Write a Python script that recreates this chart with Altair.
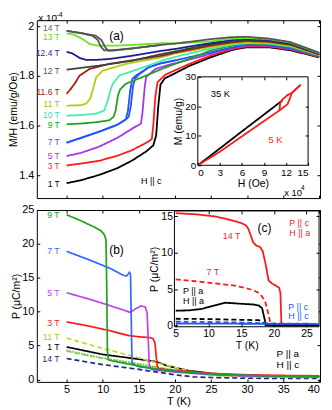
import altair as alt
import pandas as pd

FONT = "Liberation Sans"

# ================= Panel (a): M/H (x1e-4 emu/g/Oe) vs T (K) =================
a_series = ["1 T", "3 T", "5 T", "7 T", "7 T b", "9 T", "10 T", "11 T",
            "11.6 T", "12 T", "12.4 T", "13 T", "14 T", "14 T b"]
a_colors = ["#000000", "#ff1a1a", "#aa33ee", "#2255ff", "#2255ff", "#22a022", "#44eeaa",
            "#b4cc10", "#a0200a", "#404040", "#1c1c90", "#66e61e", "#555555", "#555555"]

a_T = {
    "1 T": [5, 7, 9.5, 12, 14, 16, 17, 17.4, 17.7, 18.0, 18.6, 20, 22, 25, 28, 30, 33, 36, 40],
    "3 T": [5, 7, 9.5, 12, 14, 16, 16.8, 17.0, 17.3, 17.6, 18.7, 20, 22, 25, 28, 30, 33, 36, 40],
    "5 T": [5, 7, 9.5, 12, 14.1, 15.3, 15.5, 15.8, 16.0, 17.3, 19.6, 22, 25, 28, 30, 33, 36, 40],
    "7 T": [5, 7, 9.5, 12, 13.2, 13.5, 13.8, 14.1, 14.6, 16.4, 18, 20, 22, 25, 28, 30, 33, 36, 40],
    "7 T b": [5, 9.5, 12, 13.0, 13.6, 13.9, 14.2, 14.5, 15.0, 16.4, 18, 20],
    "9 T": [5, 7, 9, 10.9, 11.5, 11.8, 12.1, 12.4, 13.2, 15.5, 18.2, 20, 22, 25, 28, 30, 33, 36, 40],
    "10 T": [5, 7, 9.1, 10.2, 10.7, 11.1, 11.4, 12.3, 15, 18.2, 20, 22, 25, 28, 30, 33, 36, 40],
    "11 T": [5, 7, 7.7, 8.3, 8.6, 9.1, 10, 13.2, 18.2, 20, 22, 25, 28, 30, 33, 36, 40],
    "11.6 T": [5, 5.4, 6.1, 6.8, 8.2, 10.9, 14, 18.2, 20, 22, 25, 28, 30, 33, 36, 40],
    "12 T": [5, 9.5, 14.1, 18.2, 20, 22, 25, 28, 30, 33, 36, 40],
    "12.4 T": [5, 5.8, 6.8, 7.7, 9, 11, 14.1, 18.2, 20, 22, 25, 28, 30, 33, 36, 40],
    "13 T": [5, 6, 7.2, 8.2, 9.5, 12, 15, 18.5, 20, 22, 25, 28, 30, 33, 36, 40],
    "14 T": [5, 7, 8.6, 9.3, 9.8, 10.2, 11, 14, 18.2, 20, 22, 25, 28, 30, 33, 36, 40],
    "14 T b": [5, 7, 9.0, 9.8, 10.4, 10.8, 11.5, 14, 18.2],
}
a_M = {
    "1 T": [1.368, 1.380, 1.401, 1.428, 1.458, 1.495, 1.52, 1.56, 1.68, 1.765, 1.79, 1.81, 1.84, 1.875, 1.905, 1.915, 1.915, 1.903, 1.874],
    "3 T": [1.439, 1.447, 1.458, 1.478, 1.500, 1.53, 1.545, 1.60, 1.72, 1.775, 1.805, 1.822, 1.848, 1.882, 1.908, 1.918, 1.918, 1.906, 1.876],
    "5 T": [1.477, 1.490, 1.515, 1.55, 1.588, 1.608, 1.65, 1.75, 1.795, 1.828, 1.848, 1.865, 1.889, 1.912, 1.922, 1.921, 1.909, 1.878],
    "7 T": [1.531, 1.550, 1.575, 1.603, 1.625, 1.66, 1.74, 1.788, 1.801, 1.835, 1.85, 1.862, 1.875, 1.895, 1.915, 1.926, 1.924, 1.912, 1.879],
    "7 T b": [1.531, 1.575, 1.603, 1.62, 1.635, 1.68, 1.76, 1.79, 1.805, 1.835, 1.85, 1.862],
    "9 T": [1.605, 1.608, 1.613, 1.621, 1.635, 1.661, 1.72, 1.745, 1.768, 1.795, 1.828, 1.848, 1.868, 1.903, 1.922, 1.93, 1.928, 1.916, 1.881],
    "10 T": [1.64, 1.642, 1.648, 1.66, 1.70, 1.745, 1.768, 1.801, 1.828, 1.861, 1.876, 1.89, 1.91, 1.926, 1.932, 1.93, 1.919, 1.883],
    "11 T": [1.68, 1.682, 1.688, 1.71, 1.741, 1.795, 1.821, 1.848, 1.875, 1.89, 1.9, 1.916, 1.93, 1.936, 1.933, 1.922, 1.884],
    "11.6 T": [1.728, 1.741, 1.768, 1.801, 1.828, 1.848, 1.862, 1.881, 1.893, 1.905, 1.922, 1.935, 1.94, 1.937, 1.925, 1.886],
    "12 T": [1.825, 1.841, 1.861, 1.888, 1.898, 1.91, 1.927, 1.94, 1.944, 1.94, 1.928, 1.887],
    "12.4 T": [1.897, 1.89, 1.872, 1.864, 1.864, 1.868, 1.881, 1.901, 1.908, 1.918, 1.932, 1.945, 1.948, 1.945, 1.931, 1.889],
    "13 T": [1.971, 1.966, 1.948, 1.928, 1.921, 1.922, 1.926, 1.932, 1.93, 1.933, 1.939, 1.95, 1.952, 1.948, 1.934, 1.891],
    "14 T": [1.981, 1.972, 1.961, 1.945, 1.915, 1.903, 1.902, 1.91, 1.925, 1.93, 1.937, 1.948, 1.956, 1.957, 1.95, 1.936, 1.893],
    "14 T b": [1.981, 1.972, 1.962, 1.945, 1.912, 1.902, 1.902, 1.91, 1.925],
}

a_lab_text = ["14 T", "13 T", "12.4 T", "12 T", "11.6 T", "11 T", "10 T", "9 T", "7 T", "5 T", "3 T", "1 T"]
a_lab_M = [1.993, 1.958, 1.892, 1.821, 1.736, 1.686, 1.643, 1.603, 1.533, 1.478, 1.435, 1.364]
a_lab_color = ["#666666", "#55dd11", "#2a2aa0", "#555555", "#a02010", "#aabb00", "#33ddaa",
               "#229922", "#3355ff", "#aa33ee", "#ff2020", "#000000"]

a_note_text = ["x 10", "-4", "(a)", "H || c"]
a_note_T = [1.07, 3.6, 10.9, 15.3]
a_note_M = [2.033, 2.046, 1.96, 1.375]
a_note_size = [10, 7, 12, 9]

# inset of (a): M (emu/g) vs H (x1e4 Oe)
i_series = ["35 K", "5 K up", "5 K down"]
i_colors = ["#000000", "#ff1a1a", "#ff1a1a"]
i_H = {
    "35 K": [0, 3, 6, 9, 11.5],
    "5 K up": [0, 3, 6, 9, 11.1, 12.2, 12.5, 12.8, 14],
    "5 K down": [14, 12.8, 12.2, 11.5, 11.2, 11.1],
}
i_M = {
    "35 K": [0, 5.7, 11.5, 17.2, 22.0],
    "5 K up": [0, 4.6, 9.8, 15.0, 18.6, 20.7, 22.5, 24.6, 27.3],
    "5 K down": [27.3, 24.6, 23.8, 22.3, 21.0, 18.6],
}
i_note_text = ["35 K", "5 K", "x 10", "4"]
i_note_H = [1.76, 9.6, 11.76, 14.05]
i_note_M = [24.3, 8.5, -9.4, -7.75]
i_note_color = ["#000000", "#ff1a1a", "#000000", "#000000"]
i_note_size = [9.5, 9.5, 9.5, 6.5]

# ================= Panel (b): P (uC/m2) vs T (K), P || a, H || c =================
b_series = ["14 T", "1 T", "12 T", "13 T", "11 T", "3 T", "5 T", "7 T", "9 T"]
b_colors = ["#1a2a80", "#000000", "#8a8a8a", "#66e61e", "#bbdd22", "#ff1a1a", "#bb44ee", "#3366ff", "#22a022"]
b_dash = ["dash", "solid", "dot", "dash", "dash", "solid", "solid", "solid", "solid"]
b_T = {
    "9 T": [5, 7, 9, 9.8, 10.2, 10.45, 10.55, 10.65, 10.8, 11.5, 13, 15, 17, 20, 25, 30, 35, 40],
    "7 T": [5, 8, 11, 12.8, 13.3, 13.7, 13.85, 13.95, 14.05, 14.3, 15, 17, 20, 25, 30, 35, 40],
    "5 T": [5, 8, 11, 13.0, 13.8, 14.5, 15.3, 15.9, 16.15, 16.3, 16.45, 16.7, 17.5, 20, 25, 30, 40],
    "3 T": [5, 8, 11, 13.5, 15, 16.5, 17.0, 17.25, 17.4, 17.55, 17.8, 19, 20, 25, 30, 35, 40],
    "11 T": [5, 10, 15, 18, 20, 23, 27, 30, 35, 40],
    "1 T": [5, 10, 15, 17.5, 19, 22, 25, 30, 35, 40],
    "12 T": [5, 8, 11, 14, 17, 20, 25, 30, 40],
    "13 T": [5, 8, 11, 14, 17, 20, 25, 30, 40],
    "14 T": [5, 10, 15, 17.5, 20, 22.5, 25, 30, 35, 40],
}
b_P = {
    "9 T": [24.3, 23.4, 22.4, 21.9, 21.4, 20.6, 14.0, 4.0, 2.9, 2.7, 2.4, 2.0, 1.6, 1.2, 0.8, 0.6, 0.5, 0.45],
    "7 T": [18.9, 17.7, 16.4, 15.4, 15.25, 15.8, 15.5, 9.0, 2.6, 2.2, 1.9, 1.6, 1.2, 0.8, 0.6, 0.45, 0.4],
    "5 T": [12.8, 11.9, 10.9, 10.2, 9.9, 10.4, 10.85, 10.7, 9.8, 6.0, 2.2, 1.5, 1.35, 1.1, 0.7, 0.5, 0.4],
    "3 T": [8.5, 7.9, 7.2, 6.5, 6.3, 6.2, 6.0, 5.3, 3.5, 2.0, 1.6, 1.45, 1.35, 0.9, 0.7, 0.6, 0.55],
    "11 T": [6.1, 4.6, 3.2, 2.3, 1.8, 1.0, 0.5, 0.4, 0.35, 0.3],
    "1 T": [4.8, 3.7, 3.0, 2.6, 2.0, 1.3, 0.9, 0.6, 0.5, 0.45],
    "12 T": [4.3, 3.6, 3.0, 2.5, 1.9, 1.3, 0.8, 0.55, 0.45],
    "13 T": [4.2, 3.5, 2.9, 2.4, 1.9, 1.4, 0.8, 0.55, 0.4],
    "14 T": [3.1, 2.2, 1.5, 1.1, 0.7, 0.4, 0.3, 0.2, 0.15, 0.15],
}
b_lab_text = ["9 T", "7 T", "5 T", "3 T", "11 T", "1 T", "14 T"]
b_lab_P = [24.3, 18.9, 12.8, 8.4, 6.25, 4.8, 3.0]
b_lab_color = ["#22a022", "#3366ff", "#bb44ee", "#ff2020", "#aacc10", "#000000", "#1a2a80"]

b_note_text = ["(b)", "P || a", "H || c"]
b_note_T = [10.9, 34.07, 34.07]
b_note_P = [19.15, 3.8, 2.1]
b_note_size = [12, 10, 10]

# inset (c): P vs T
c_series = ["7 T c", "14 T c", "Pa 14", "Pa 7", "Pc 14", "Pc 7"]
c_colors = ["#ff1a1a", "#ff1a1a", "#000000", "#000000", "#2255ee", "#2255ee"]
c_dash = ["dash", "solid", "solid", "dash", "solid", "dash"]
c_T = {
    "14 T c": [5, 8, 11, 13, 15, 15.7, 16.1, 16.5, 16.8, 17.3, 17.9, 18.3, 18.7, 19.2, 19.7, 20.3, 20.8, 21.0, 21.15, 23, 26.9],
    "7 T c": [5, 8, 11, 14, 16, 17, 17.7, 18.2, 18.7, 19.1, 19.4, 19.6, 22, 26.9],
    "Pa 14": [5, 7, 9, 10.8, 12.6, 15.1, 17, 17.7, 18.2, 18.5, 18.8, 19.5, 26.9],
    "Pa 7": [5, 10, 15, 17.7, 18.3, 18.6, 18.8, 26.9],
    "Pc 14": [5, 26.9],
    "Pc 7": [5, 10, 15, 20, 26.9],
}
c_P = {
    "14 T c": [15.45, 15.3, 15.0, 14.6, 14.1, 13.8, 13.3, 12.3, 11.5, 11.0, 10.8, 10.2, 8.6, 6.2, 5.8, 5.5, 5.2, 4.5, 0.2, 0.15, 0.15],
    "7 T c": [6.35, 6.1, 5.8, 5.5, 5.1, 4.8, 4.5, 4.0, 3.2, 1.8, 0.6, 0.1, 0.05, 0.05],
    "Pa 14": [2.05, 2.1, 2.3, 2.75, 3.15, 3.0, 2.9, 2.75, 2.4, 1.2, 0.1, 0.05, 0.05],
    "Pa 7": [0.95, 0.9, 0.8, 0.75, 0.5, 0.2, 0.05, 0.05],
    "Pc 14": [0.3, 0.22],
    "Pc 7": [0.55, 0.5, 0.42, 0.3, 0.25],
}
c_note_text = ["(c)", "P || c", "H || a", "14 T", "7 T", "P || a", "H || a", "P || c", "H || c"]
c_note_T = [17.5, 22.35, 22.35, 12.17, 9.7, 6.1, 6.1, 22.2, 22.2]
c_note_P = [13.4, 14.1, 12.7, 12.3, 7.3, 4.8, 3.45, 2.6, 1.35]
c_note_color = ["#000000", "#ff1a1a", "#ff1a1a", "#ff1a1a", "#ff1a1a", "#000000", "#000000", "#2255ee", "#2255ee"]
c_note_size = [12, 9, 9, 9, 9, 9, 9, 9, 9]

# ================= axis / scale settings =================
T_ticks = [5, 10, 15, 20, 25, 30, 35, 40]
T_dom = [0.87, 40.1]
A_dom = [1.308, 2.024]
B_dom = [-0.35, 25.0]
W, HA, HB = 285, 179, 173

I_Hdom, I_Mdom = [0, 15], [0, 30]
I_xr, I_yr = [162, 273], [146, 57]
C_Tdom, C_Pdom = [4.8, 26.9], [-0.15, 15.75]
C_xr, C_yr = [138.5, 284], [117.5, 1]


def lines_df(names, xs, ys, colors, dashes=None):
    rows = []
    for k, name in enumerate(names):
        for i, (x, y) in enumerate(zip(xs[name], ys[name])):
            rows.append(dict(series=name, x=x, y=y, color=colors[k],
                             dash=(dashes[k] if dashes else "solid"), i=i))
    return pd.DataFrame(rows)


def text_df(texts, xs, ys, colors=None, sizes=None, default_size=9.5):
    return pd.DataFrame(dict(
        text=texts, x=xs, y=ys,
        color=colors if colors else ["#000000"] * len(texts),
        fs=sizes if sizes else [default_size] * len(texts)))


def sc(domain, rng=None):
    if rng is None:
        return alt.Scale(domain=domain, nice=False, zero=False)
    return alt.Scale(domain=domain, range=rng, nice=False, zero=False)


def ax(orient, values, offset, labels=True, title=None, fmt=None, z=0, lsize=11,
       tsize=11, title_pad=1, label_pad=3, **kw):
    args = dict(orient=orient, values=values, offset=offset, labels=labels,
                tickSize=3, domain=False, grid=False, tickColor="black",
                labelColor="black", labelFontSize=lsize, labelPadding=label_pad,
                titleFontSize=tsize, titleFontWeight="normal", titleColor="black",
                titlePadding=title_pad, zindex=z, labelFont=FONT, titleFont=FONT)
    if title is not None:
        args["title"] = title
    if fmt:
        args["format"] = fmt
    args.update(kw)
    return alt.Axis(**args)


DASHES = alt.Scale(domain=["solid", "dash", "dot"], range=[[1, 0], [5, 3], [1.5, 1.5]])


def line_layer(df, xs, ys, xaxis, yaxis, width=1.7):
    return alt.Chart(df).mark_line(strokeWidth=width).encode(
        x=alt.X("x:Q", scale=xs, axis=xaxis, title=None),
        y=alt.Y("y:Q", scale=ys, axis=yaxis, title=None),
        color=alt.Color("color:N", scale=None),
        strokeDash=alt.StrokeDash("dash:N", scale=DASHES, legend=None),
        detail="series:N",
        order="i:Q",
    )


def text_layer(df, xs, ys, xaxis, yaxis, align="left"):
    return alt.Chart(df).mark_text(align=align, baseline="middle", font=FONT).encode(
        x=alt.X("x:Q", scale=xs, axis=xaxis, title=None),
        y=alt.Y("y:Q", scale=ys, axis=yaxis, title=None),
        text="text:N",
        color=alt.Color("color:N", scale=None),
        size=alt.Size("fs:Q", scale=None),
    )


def frame_layer(xdom, ydom, xs, ys):
    df = pd.DataFrame(dict(x0=[xdom[0]], x1=[xdom[1]], y0=[ydom[0]], y1=[ydom[1]]))
    return alt.Chart(df).mark_rect(fill="white", stroke="black", strokeWidth=1).encode(
        x=alt.X("x0:Q", scale=xs, axis=None), x2="x1:Q",
        y=alt.Y("y0:Q", scale=ys, axis=None), y2="y1:Q",
    )


# ---------- panel (a) ----------
dfa = lines_df(a_series, a_T, a_M, a_colors)
lab_a = text_df(a_lab_text, [4.04] * len(a_lab_text), a_lab_M, a_lab_color, default_size=8.5)
note_a = text_df(a_note_text, a_note_T, a_note_M, sizes=a_note_size)

XA, YA = sc(T_dom), sc(A_dom)
pa_lines = line_layer(
    dfa, XA, YA,
    ax("bottom", T_ticks, -3, labels=False),
    ax("left", [1.4, 1.6, 1.8, 2.0], -3, title="M/H (emu/g/Oe)", fmt=".1~f", title_pad=0,
       tsize=10.5),
    width=1.8)
pa_labels = text_layer(lab_a, XA, YA,
                       ax("top", T_ticks, -3, labels=False),
                       ax("right", [1.4, 1.6, 1.8, 2.0], -3, labels=False),
                       align="right")
pa_notes = text_layer(note_a, XA, YA, None, None)

XI, YI = sc(I_Hdom, I_xr), sc(I_Mdom, I_yr)
dfi = lines_df(i_series, i_H, i_M, i_colors)
note_i = text_df(i_note_text, i_note_H, i_note_M, i_note_color, i_note_size)
pi_frame = frame_layer(I_Hdom, I_Mdom, XI, YI)
pi_lines = line_layer(
    dfi, XI, YI,
    ax("bottom", [0, 3, 6, 9, 12, 15], -(HA - I_yr[0]) - 3, title="H (Oe)", z=1,
       lsize=10, tsize=10.5, label_pad=2),
    ax("left", [0, 10, 20, 30], -(I_xr[0] + 3), title="M (emu/g)", z=1,
       lsize=10, tsize=10.5, label_pad=2),
    width=1.8)
pi_notes = text_layer(note_i, XI, YI,
                      ax("top", [3, 6, 9, 12], -(I_yr[1] + 3), labels=False, z=1),
                      ax("right", [10, 20], (I_xr[1] - 3) - W, labels=False, z=1))

panel_a = alt.layer(pa_lines, pa_labels, pa_notes, pi_frame, pi_lines, pi_notes).resolve_scale(
    x="independent", y="independent").properties(width=W, height=HA)

# ---------- panel (b) ----------
dfb = lines_df(b_series, b_T, b_P, b_colors, b_dash)
lab_b = text_df(b_lab_text, [4.04] * len(b_lab_text), b_lab_P, b_lab_color, default_size=8.8)
note_b = text_df(b_note_text, b_note_T, b_note_P, sizes=b_note_size)

XB, YB = sc(T_dom), sc(B_dom)
pb_lines = line_layer(
    dfb, XB, YB,
    ax("bottom", T_ticks, -3, title="T (K)", title_pad=1, label_pad=2),
    ax("left", [0, 5, 10, 15, 20, 25], -3, title="P (\u03bcC/m\u00b2)", title_pad=0,
       tsize=10.5),
    width=1.7)
pb_labels = text_layer(lab_b, XB, YB,
                       ax("top", T_ticks, -3, labels=False),
                       ax("right", [0, 5, 10, 15, 20, 25], -3, labels=False),
                       align="right")
pb_notes = text_layer(note_b, XB, YB, None, None)

XC, YC = sc(C_Tdom, C_xr), sc(C_Pdom, C_yr)
dfc = lines_df(c_series, c_T, c_P, c_colors, c_dash)
note_c = text_df(c_note_text, c_note_T, c_note_P, c_note_color, c_note_size)
pc_frame = frame_layer(C_Tdom, C_Pdom, XC, YC)
pc_lines = line_layer(
    dfc, XC, YC,
    ax("bottom", [5, 10, 15, 20, 25], -(HB - C_yr[0]) - 3, title="T (K)", z=1,
       lsize=10.5, tsize=10.5, label_pad=2),
    ax("left", [0, 5, 10, 15], -(C_xr[0] + 3), title="P (\u03bcC/m\u00b2)", z=1,
       lsize=10.5, tsize=10.5, label_pad=2),
    width=1.8)
pc_notes = text_layer(note_c, XC, YC,
                      ax("top", [10, 15, 20, 25], -(C_yr[1] + 3), labels=False, z=1),
                      ax("right", [5, 10, 15], (C_xr[1] - 3) - W, labels=False, z=1))

panel_b = alt.layer(pb_lines, pb_labels, pb_notes, pc_frame, pc_lines, pc_notes).resolve_scale(
    x="independent", y="independent").properties(width=W, height=HB)

chart = alt.vconcat(panel_a, panel_b, spacing=12, bounds="flush").properties(
    padding={"left": 0, "top": 1, "right": 0, "bottom": 0}
).configure(font=FONT).configure_view(stroke="black", strokeWidth=1)

chart.save("out.html", embed_options={"renderer": "svg", "actions": False})
